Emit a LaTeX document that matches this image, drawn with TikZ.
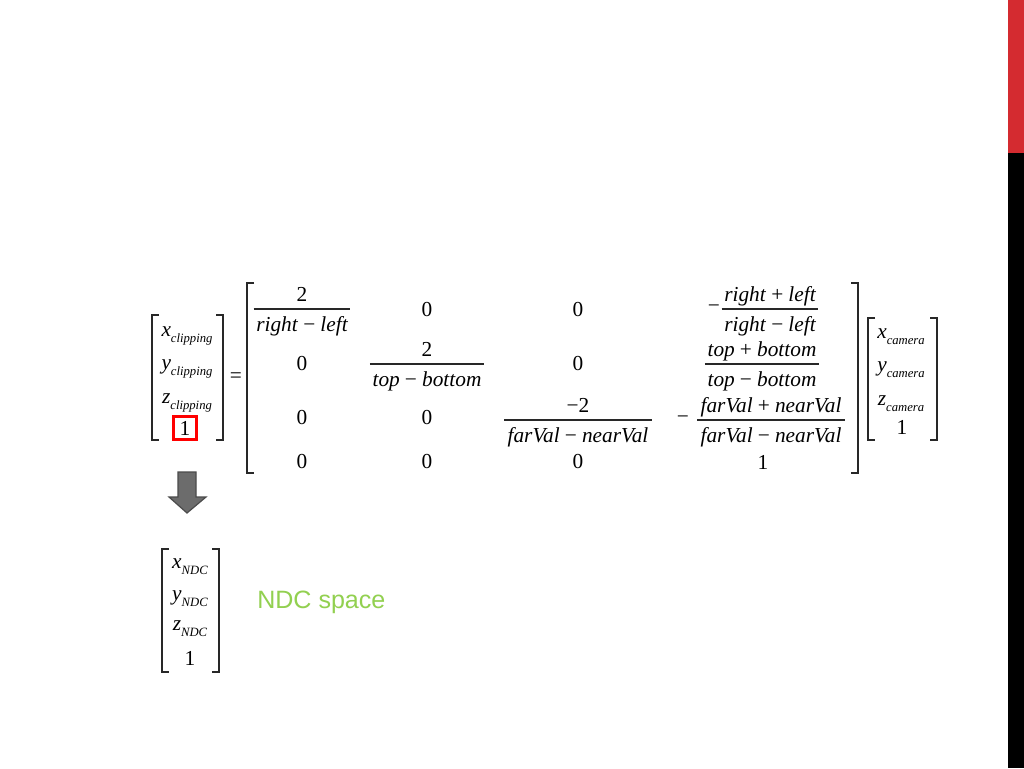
\documentclass[tikz,border=0pt]{standalone}
\usepackage{fontspec}
\setmainfont{Liberation Serif}
\newfontfamily\arialf{Liberation Sans}
\definecolor{barred}{RGB}{212,43,48}
\definecolor{ndcgreen}{RGB}{146,208,80}
\definecolor{arrowgray}{RGB}{108,108,108}
\definecolor{arrowdark}{RGB}{75,75,75}
\definecolor{inkgray}{RGB}{40,40,40}
\newcommand\mainfs{\fontsize{16}{19}\selectfont}
\newcommand\sbs[1]{\raisebox{-0.3em}{\fontsize{9.5}{10}\selectfont\itshape #1}}
\newcommand\mns{\hspace{0.24em}\textup{−}\hspace{0.24em}}
\newcommand\pls{\hspace{0.24em}\textup{+}\hspace{0.24em}}
\begin{document}
\begin{tikzpicture}[x=0.75pt,y=-0.75pt,
  txt/.style={inner sep=0pt, font=\mainfs},
  itx/.style={inner sep=0pt, font=\mainfs\itshape, anchor=base},
  brk/.style={line width=0.9pt, draw=inkgray},
  fbar/.style={line width=0.9pt, draw=inkgray}]
\fill[white] (0,0) rectangle (1024,768);
\useasboundingbox (0,0) rectangle (1024,768);

% side bars
\fill[barred] (1008,0) rectangle (1024,153);
\fill[black] (1008,153) rectangle (1024,768);

% bar levels
\coordinate (r1) at (0,309);
\coordinate (r2) at (0,364);
\coordinate (r3) at (0,420);

% ---- left vector
\draw[brk] (159,315) -- (152,315) -- (152,440) -- (159,440);
\draw[brk] (216,315) -- (223,315) -- (223,440) -- (216,440);
\node[itx] (xc) at (187,336) {x\sbs{clipping}};
\node[itx] (yc) at (187,369) {y\sbs{clipping}};
\node[itx] (zc) at (187,403) {z\sbs{clipping}};
\node[txt, draw=red, line width=2.2pt, minimum width=17pt, minimum height=17pt] (oc) at (185,428) {1};

\node[txt] (eq) at (236,378) {=};

% ---- big matrix brackets
\draw[brk] (254,283) -- (247,283) -- (247,473) -- (254,473);
\draw[brk] (851,283) -- (858,283) -- (858,473) -- (851,473);

% row 1
\node[txt, anchor=base] (n11) at (302,301) {2};
\node[itx] (d11) at (302,331) {right\mns left};
\node[txt] (z12) at (427,310) {0};
\node[txt] (z13) at (578,310) {0};
\node[txt] (m14) at (714,309) {−};
\node[itx] (n14) at (770,301) {right\pls left};
\node[itx] (d14) at (770,331) {right\mns left};

% row 2
\node[txt] (z21) at (302,364) {0};
\node[txt, anchor=base] (n22) at (427,356) {2};
\node[itx] (d22) at (427,386) {top\mns bottom};
\node[txt] (z23) at (578,364) {0};
\node[itx] (n24) at (762,356) {top\pls bottom};
\node[itx] (d24) at (762,386) {top\mns bottom};

% row 3
\node[txt] (z31) at (302,418) {0};
\node[txt] (z32) at (427,418) {0};
\node[txt, anchor=base] (n33) at (578,412) {−2};
\node[itx] (d33) at (578,442) {farVal\mns nearVal};
\node[txt] (m34) at (683,420) {−};
\node[itx] (n34) at (771,412) {farVal\pls nearVal};
\node[itx] (d34) at (771,442) {farVal\mns nearVal};

% row 4
\node[txt] (z41) at (302,462) {0};
\node[txt] (z42) at (427,462) {0};
\node[txt] (z43) at (578,462) {0};
\node[txt] (o44) at (763,462) {1};

% fraction bars
\draw[fbar] ([xshift=-1.8pt]d11.west |- r1) -- ([xshift=1.8pt]d11.east |- r1);
\draw[fbar] ([xshift=-1.8pt]d14.west |- r1) -- ([xshift=1.8pt]d14.east |- r1);
\draw[fbar] ([xshift=-1.8pt]d22.west |- r2) -- ([xshift=1.8pt]d22.east |- r2);
\draw[fbar] ([xshift=-1.8pt]d24.west |- r2) -- ([xshift=1.8pt]d24.east |- r2);
\draw[fbar] ([xshift=-2.5pt]d33.west |- r3) -- ([xshift=2.5pt]d33.east |- r3);
\draw[fbar] ([xshift=-2.5pt]d34.west |- r3) -- ([xshift=2.5pt]d34.east |- r3);

% ---- right vector
\draw[brk] (875,318) -- (868,318) -- (868,440) -- (875,440);
\draw[brk] (930,318) -- (937,318) -- (937,440) -- (930,440);
\node[itx] (xk) at (901,338) {x\sbs{camera}};
\node[itx] (yk) at (901,371) {y\sbs{camera}};
\node[itx] (zk) at (901,405) {z\sbs{camera}};
\node[txt] (ok) at (902,427) {1};

% ---- arrow
\draw[fill=arrowgray, draw=arrowdark, line width=0.9pt, line join=miter]
  (178,472) -- (196,472) -- (196,497) -- (206,497) -- (187,513) -- (169,497) -- (178,497) -- cycle;

% ---- NDC vector
\draw[brk] (169,549) -- (162,549) -- (162,672) -- (169,672);
\draw[brk] (212,549) -- (219,549) -- (219,672) -- (212,672);
\node[itx] (xn) at (190,568) {x\sbs{NDC}};
\node[itx] (yn) at (190,600) {y\sbs{NDC}};
\node[itx] (zn) at (190,630) {z\sbs{NDC}};
\node[txt] (on) at (190,658) {1};

\node[inner sep=0pt, anchor=base west, font=\arialf\fontsize{18.8}{22}\selectfont, text=ndcgreen] (ndc) at (257,608) {NDC space};
\end{tikzpicture}
\end{document}
